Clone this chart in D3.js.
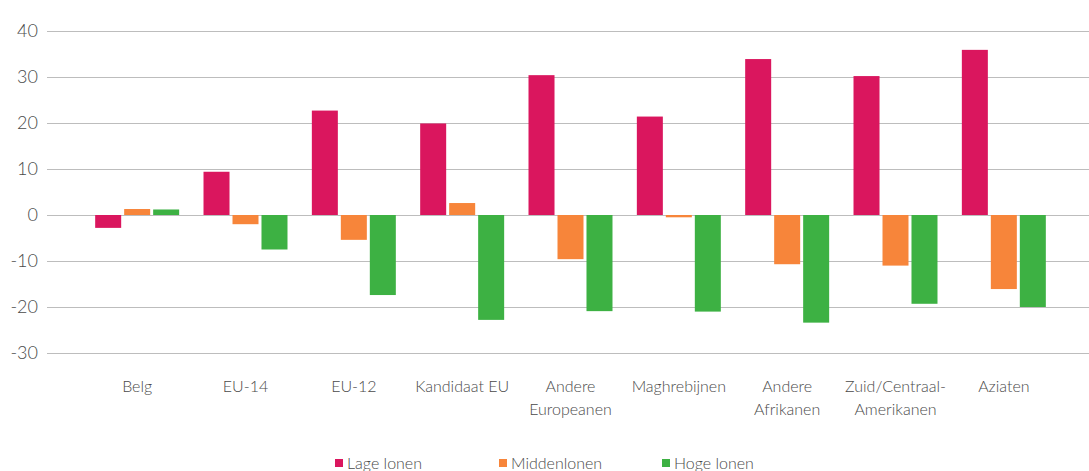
<!DOCTYPE html>
<html>
<head>
<meta charset="utf-8">
<script src="https://cdn.jsdelivr.net/npm/d3@7"></script>
<style>
  html, body { margin: 0; padding: 0; background: #fff; }
  svg text { font-family: Lato, "Open Sans", sans-serif; font-weight: 300; fill: #4a4a4a; }
</style>
</head>
<body>
<svg id="chart" width="1089" height="471"></svg>
<script>
// Herkomstgroepen en verschil per loonniveau (%)
const categories = [
  ["Belg"], ["EU-14"], ["EU-12"], ["Kandidaat EU"], ["Andere", "Europeanen"],
  ["Maghrebijnen"], ["Andere", "Afrikanen"], ["Zuid/Centraal-", "Amerikanen"], ["Aziaten"]
];
const seriesNames = ["Lage lonen", "Middenlonen", "Hoge lonen"];
const lageLonen   = [-2.8, 9.4, 22.7, 19.9, 30.4, 21.4, 33.9, 30.2, 35.9];
const middenLonen = [1.3, -2.0, -5.4, 2.6, -9.6, -0.5, -10.7, -11.0, -16.1];
const hogeLonen   = [1.2, -7.5, -17.4, -22.8, -20.9, -21.0, -23.4, -19.3, -20.0];
const yTicks = [40, 30, 20, 10, 0, -10, -20, -30];
const colors = ["#DA165E", "#F7853A", "#3DB143"];

const series = [lageLonen, middenLonen, hogeLonen];
const svg = d3.select("#chart");

const y = d3.scaleLinear().domain([-30, 40]).range([353, 31]);
const keys = categories.map(c => c.join(" "));
const x0 = d3.scaleBand().domain(keys).range([83, 1058]).paddingInner(0).paddingOuter(0);
const x1 = d3.scaleBand().domain(seriesNames).range([0, x0.bandwidth()]).paddingInner(0.103).paddingOuter(0.42);

// Rasterlijnen en y-as labels
const grid = svg.append("g");
grid.selectAll("line").data(yTicks).join("line")
  .attr("x1", 47).attr("x2", 1089)
  .attr("y1", d => Math.round(y(d)) + 0.5).attr("y2", d => Math.round(y(d)) + 0.5)
  .attr("stroke", "#bdbdbd").attr("stroke-width", 1);
grid.selectAll("text").data(yTicks).join("text")
  .attr("x", 38).attr("y", d => y(d))
  .attr("dy", "0.35em").attr("text-anchor", "end")
  .style("font-size", "18px")
  .text(d => d);

// Staven
const groups = svg.append("g").selectAll("g").data(keys).join("g")
  .attr("transform", d => `translate(${x0(d)},0)`);
groups.selectAll("rect")
  .data((d, i) => series.map((s, j) => ({ name: seriesNames[j], value: s[i], j })))
  .join("rect")
  .attr("x", d => x1(d.name))
  .attr("width", x1.bandwidth())
  .attr("y", d => y(Math.max(0, d.value)))
  .attr("height", d => Math.abs(y(d.value) - y(0)))
  .attr("fill", d => colors[d.j]);

// Categorielabels
const labels = svg.append("g").selectAll("text").data(categories).join("text")
  .attr("text-anchor", "middle")
  .attr("x", (d, i) => x0(keys[i]) + x0.bandwidth() / 2)
  .attr("y", 392)
  .style("font-size", "16px");
labels.selectAll("tspan").data(d => d).join("tspan")
  .attr("x", function () { return this.parentNode.getAttribute("x"); })
  .attr("dy", (d, i) => i === 0 ? 0 : 23)
  .text(d => d);

// Legenda
const legendX = [335, 499, 662];
const legend = svg.append("g").selectAll("g").data(seriesNames).join("g")
  .attr("transform", (d, i) => `translate(${legendX[i]},459)`);
legend.append("rect").attr("width", 8).attr("height", 8).attr("fill", (d, i) => colors[i]);
legend.append("text").attr("x", 12).attr("y", 4).attr("dy", "0.35em")
  .style("font-size", "16px").text(d => d);
</script>
</body>
</html>
